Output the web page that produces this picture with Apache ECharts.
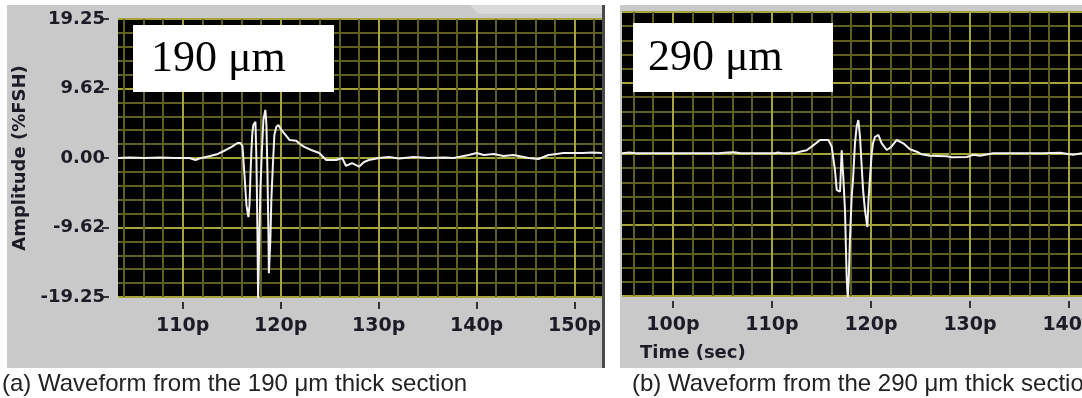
<!DOCTYPE html>
<html>
<head>
<meta charset="utf-8">
<title>Waveforms</title>
<script src="https://cdn.jsdelivr.net/npm/echarts@6/dist/echarts.min.js"></script>
<style>
  html, body { margin: 0; padding: 0; background: #fff; }
  #chart { width: 1082px; height: 398px; }
</style>
</head>
<body>
<div id="chart"></div>
<script>
// (a) 190 um section: time (ps) / amplitude (%FSH)
const timeA = [103.4, 104.6, 106.1, 107.7, 109.2, 110.7, 111.3, 111.7, 112.8, 113.6,
  114.2, 115.0, 115.6, 115.9, 116.1, 116.31, 116.51, 116.71, 116.82, 116.92,
  117.02, 117.12, 117.22, 117.43, 117.53, 117.63, 117.7, 117.78, 117.93, 118.09,
  118.24, 118.44, 118.55, 118.65, 118.75, 118.8, 118.95, 119.05, 119.21, 119.36,
  119.56, 119.77, 120.07, 120.68, 120.89, 121.6, 121.9, 122.41, 123.12, 123.94,
  124.65, 125.67, 126.28, 126.68, 127.29, 128.0, 128.51, 129.02, 130.04, 131.06,
  132.08, 133.6, 135.13, 136.65, 137.67, 138.69, 139.2, 140.01, 140.72, 141.74,
  142.76, 143.77, 145.3, 146.32, 147.33, 148.15, 148.86, 149.88, 150.9, 151.71,
  152.8];
const ampA = [0, 0.07, 0, 0.07, 0, 0, -0.28, -0.07, 0.28, 0.56,
  0.97, 1.53, 2.08, 2.08, 1.67, -2.36, -6.53, -8.19, -6.53, -2.36,
  1.11, 3.61, 4.58, 5.0, -0.28, -10.0, -19.5, -14.17, -4.44, 1.11,
  5.28, 6.67, 4.58, -1.67, -10.0, -15.97, -11.39, -5.83, -0.97, 3.19,
  4.31, 4.58, 3.89, 2.9, 2.5, 2.4, 2.0, 1.53, 1.11, 0.69,
  -0.28, -0.28, 0, -1.1, -0.7, -1.2, -0.56, -0.28, 0, 0.14,
  -0.07, 0.14, 0, 0.07, 0, 0.28, 0.42, 0.69, 0.42, 0.56,
  0.28, 0.42, 0, -0.14, 0.42, 0.56, 0.69, 0.69, 0.69, 0.76,
  0.69];

// (b) 290 um section
const timeB = [94.85, 95.6, 96.2, 97.0, 99.1, 99.3, 99.5, 104.2, 104.4, 104.6,
  105.5, 106.2, 106.8, 108.0, 110.3, 110.6, 111.0, 112.3, 112.8, 113.5,
  114.2, 114.85, 115.7, 116.03, 116.36, 116.54, 116.87, 117.04, 117.12, 117.2,
  117.37, 117.54, 117.65, 117.75, 117.88, 118.05, 118.2, 118.38, 118.55, 118.72,
  118.89, 119.06, 119.2, 119.39, 119.63, 119.75, 119.9, 120.07, 120.2, 120.4,
  120.74, 121.08, 121.59, 122.0, 122.6, 123.26, 123.94, 124.62, 125.12, 125.96,
  127.65, 128.15, 129.67, 130.33, 131.01, 132.35, 133.71, 135.35, 137.37, 139.09,
  140.4, 141.31];
const ampB = [0.1, 0.2, 0.1, 0.1, 0.1, 0.25, 0.1, 0.1, 0.25, 0.1,
  0.2, 0.25, 0.1, 0.1, 0.1, 0.2, 0.1, 0.1, 0.3, 0.5,
  1.2, 1.9, 1.9, 1.0, -2.2, -4.9, -5.1, 0.5, -1.5, -3.1,
  -7.6, -16.6, -19.5, -17.0, -11.2, -5.8, -3.1, 1.45, 3.7, 4.6,
  2.3, -1.7, -4.9, -7.6, -9.9, -6.2, -3.1, 0.1, 1.45, 2.3,
  2.6, 1.45, 0.54, 0.9, 1.9, 1.45, 0.64, 0.31, -0.04, -0.25,
  -0.3, -0.45, -0.4, -0.1, -0.25, 0.09, 0.1, 0.1, 0.09, 0.18,
  -0.1, 0.09];

const xTicksA = [110, 120, 130, 140, 150];
const xTicksB = [100, 110, 120, 130, 140];
const yTicks = [-19.25, -9.625, 0, 9.625, 19.25];
const yTickLabels = ["-19.25", "-9.62", "0.00", "9.62", "19.25"];

const chartDom = echarts.init(document.getElementById("chart"));

const labelFont = {
  fontFamily: "DejaVu Sans",
  fontWeight: "bold",
  fontSize: 18,
  color: "#1c1c26"
};
const majorColor = "#a4a43a";
const minorColor = "#5f5f22";

const xAxisOf = (gridIndex, min, max, ticks) => ({
  type: "value",
  gridIndex,
  min,
  max,
  splitNumber: 5,
  minInterval: 10,
  maxInterval: 10,
  offset: 5,
  axisLine: { show: false, onZero: false },
  axisTick: { show: true, inside: false, length: 7, customValues: ticks, lineStyle: { color: "#333", width: 2 } },
  axisLabel: { ...labelFont, fontSize: 19, margin: 15, customValues: ticks, formatter: v => v + "p" },
  splitLine: { show: true, lineStyle: { color: majorColor, width: 2 } },
  minorTick: { show: false, splitNumber: 5 },
  minorSplitLine: { show: true, lineStyle: { color: minorColor, width: 2 } }
});

const yAxisOf = (gridIndex, withLabels) => ({
  type: "value",
  gridIndex,
  min: -19.25,
  max: 19.25,
  interval: 9.625,
  offset: 9,
  name: withLabels ? "Amplitude (%FSH)" : "",
  nameLocation: "middle",
  nameGap: 80,
  nameRotate: 90,
  nameTextStyle: { ...labelFont },
  axisLine: { show: false, onZero: false },
  axisTick: { show: withLabels, length: 7, lineStyle: { color: "#333", width: 2 } },
  axisLabel: {
    show: withLabels,
    ...labelFont,
    margin: 4,
    formatter: v => {
      const i = yTicks.findIndex(t => Math.abs(t - v) < 1e-6);
      return i < 0 ? "" : yTickLabels[i];
    }
  },
  splitLine: { show: true, lineStyle: { color: majorColor, width: 2 } },
  minorTick: { show: false, splitNumber: 5 },
  minorSplitLine: { show: true, lineStyle: { color: minorColor, width: 2 } }
});

const trace = (xi, times, amps) => ({
  type: "line",
  xAxisIndex: xi,
  yAxisIndex: xi,
  data: times.map((t, i) => [t, amps[i]]),
  showSymbol: false,
  silent: true,
  animation: false,
  lineStyle: { color: "#f2f2f2", width: 2 },
  z: 5
});

const mu = "\u03bc";

chartDom.setOption({
  backgroundColor: "#ffffff",
  animation: false,
  grid: [
    { left: 118, top: 19, width: 484, height: 278, show: true, backgroundColor: "#000", borderWidth: 0, outerBoundsMode: "none", containLabel: false },
    { left: 622, top: 12, width: 460, height: 284, show: true, backgroundColor: "#000", borderWidth: 0, outerBoundsMode: "none", containLabel: false }
  ],
  xAxis: [
    xAxisOf(0, 103.4, 152.8, xTicksA),
    xAxisOf(1, 94.85, 141.31, xTicksB)
  ],
  yAxis: [yAxisOf(0, true), yAxisOf(1, false)],
  series: [trace(0, timeA, ampA), trace(1, timeB, ampB)],
  graphic: [
    // instrument panels
    { type: "rect", z: -10, shape: { x: 7, y: 5, width: 597, height: 363 }, style: { fill: "#c9c9c9" } },
    { type: "polygon", z: -9, shape: { points: [[470, 5], [604, 5], [604, 14], [478, 14]] }, style: { fill: "#d9d9d9" } },
    { type: "rect", z: -9, shape: { x: 602, y: 5, width: 3, height: 363 }, style: { fill: "#4a4a4a" } },
    { type: "rect", z: -10, shape: { x: 620, y: 5, width: 462, height: 363 }, style: { fill: "#c9c9c9" } },
    // thickness labels
    { type: "rect", z: 20, shape: { x: 133, y: 25, width: 201, height: 67 }, style: { fill: "#fff" } },
    { type: "text", z: 21, x: 151, y: 59, style: { text: "190 " + mu + "m", font: "44px 'Liberation Serif'", fill: "#000", verticalAlign: "middle" } },
    { type: "rect", z: 20, shape: { x: 633, y: 23, width: 200, height: 69 }, style: { fill: "#fff" } },
    { type: "text", z: 21, x: 648, y: 58, style: { text: "290 " + mu + "m", font: "44px 'Liberation Serif'", fill: "#000", verticalAlign: "middle" } },
    { type: "text", z: 21, x: 640, y: 353, style: { text: "Time (sec)", font: "bold 18px 'DejaVu Sans'", fill: "#1c1c26", verticalAlign: "middle" } },
    // captions
    { type: "text", z: 21, x: 2, y: 384, style: { text: "(a) Waveform from the 190 " + mu + "m thick section", font: "24px 'Liberation Sans'", fill: "#222", verticalAlign: "middle" } },
    { type: "text", z: 21, x: 632, y: 384, style: { text: "(b) Waveform from the 290 " + mu + "m thick section", font: "24px 'Liberation Sans'", fill: "#222", verticalAlign: "middle" } }
  ]
});
</script>
</body>
</html>
